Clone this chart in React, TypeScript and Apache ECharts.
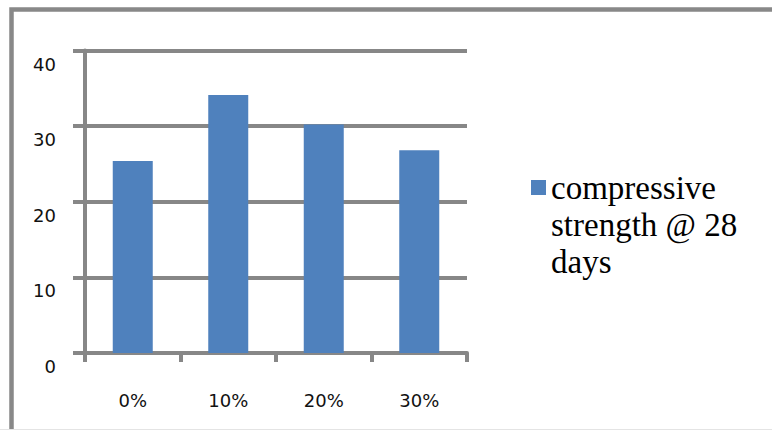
import React, { useEffect, useRef } from "react";
import * as echarts from "echarts";

const categories = ["0%", "10%", "20%", "30%"];
const strengthValues = [25.4, 34.1, 30.2, 26.8];
const seriesName = "compressive strength @ 28 days";
const legendLines = ["compressive", "strength @ 28", "days"];
const yMin = 0;
const yMax = 40;
const yInterval = 10;

export default function App() {
  const ref = useRef<HTMLDivElement>(null);

  useEffect(() => {
    const chart = echarts.init(ref.current!, null, { renderer: "svg" });
    const gray = "#878787";
    chart.setOption({
      animation: false,
      backgroundColor: "#ffffff",
      grid: { left: 85, right: 305, top: 50.5, bottom: 77, containLabel: false },
      legend: {
        show: true,
        left: 531,
        top: 95,
        padding: 0,
        orient: "vertical",
        selectedMode: false,
        icon: "rect",
        itemWidth: 15,
        itemHeight: 15,
        data: [{ name: seriesName }],
        // two leading blank lines keep the first text line level with the marker
        formatter: () => "\n\n" + legendLines.join("\n"),
        textStyle: {
          fontFamily: "Liberation Serif",
          fontSize: 33,
          lineHeight: 37,
          color: "#000000",
        },
      },
      xAxis: {
        type: "category",
        data: categories,
        boundaryGap: true,
        axisLine: { show: true, lineStyle: { color: gray, width: 4 } },
        axisTick: { show: true, length: 9, inside: false, lineStyle: { color: gray, width: 4 } },
        axisLabel: {
          fontFamily: "DejaVu Sans",
          fontSize: 18,
          color: "#111111",
          margin: 38,
        },
        splitLine: { show: false },
      },
      yAxis: {
        type: "value",
        min: yMin,
        max: yMax,
        interval: yInterval,
        axisLine: { show: true, lineStyle: { color: gray, width: 4 } },
        axisTick: { show: true, length: 12, inside: false, lineStyle: { color: gray, width: 4 } },
        axisLabel: {
          fontFamily: "DejaVu Sans",
          fontSize: 18,
          lineHeight: 27,
          color: "#111111",
          margin: 29,
          verticalAlign: "top",
        },
        splitLine: { show: true, lineStyle: { color: gray, width: 4 } },
      },
      series: [
        {
          name: seriesName,
          type: "bar",
          data: strengthValues,
          barWidth: 40,
          itemStyle: { color: "#4F81BD" },
        },
      ],
      graphic: [
        {
          type: "rect",
          silent: true,
          z: -10,
          shape: { x: 11.5, y: 9.5, width: 820, height: 480 },
          style: { fill: "none", stroke: "#888888", lineWidth: 4.5 },
        },
        {
          type: "line",
          silent: true,
          z: -10,
          shape: { x1: 0, y1: 429.5, x2: 772, y2: 429.5 },
          style: { stroke: "#e4e4e4", lineWidth: 1 },
        },
      ],
    });
    return () => chart.dispose();
  }, []);

  return (
    <div
      ref={ref}
      style={{ position: "fixed", left: 0, top: 0, width: 772, height: 430, background: "#ffffff" }}
    />
  );
}
